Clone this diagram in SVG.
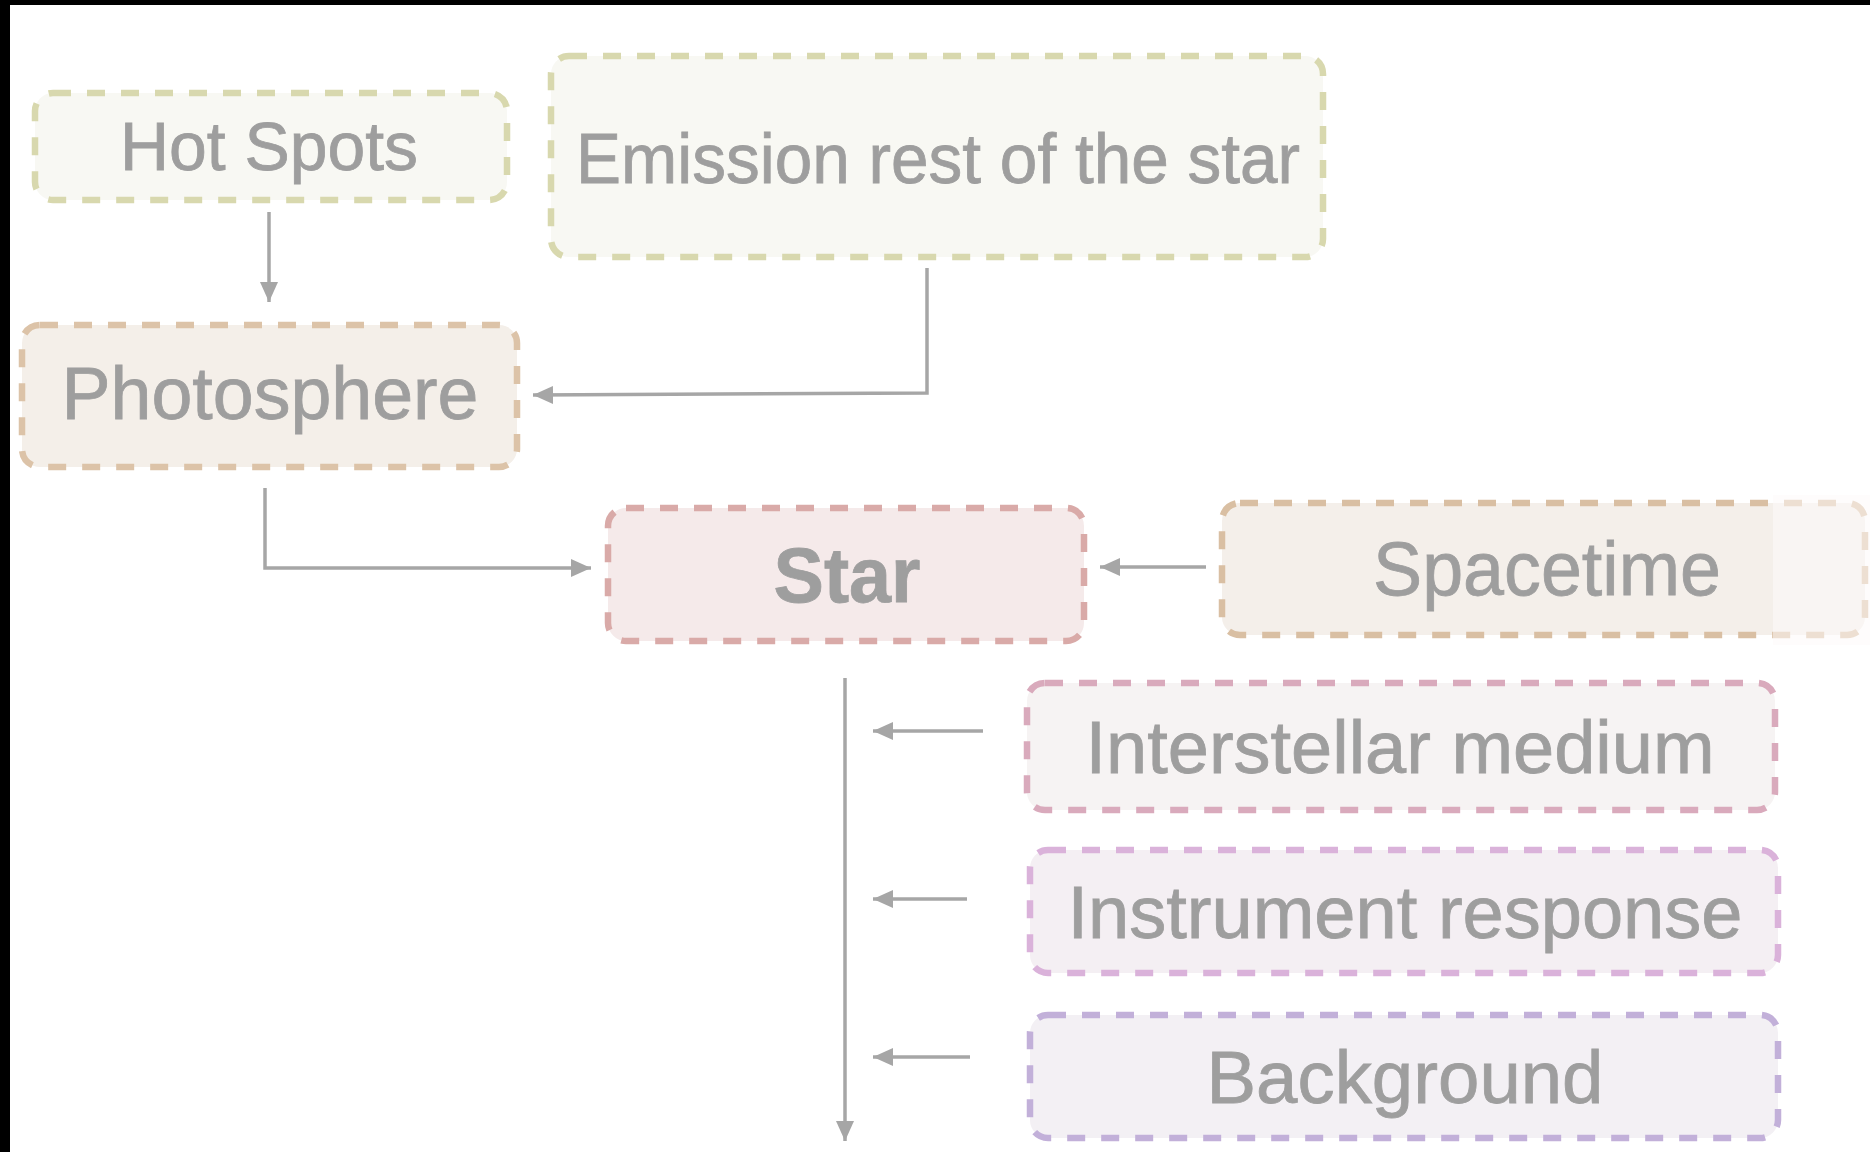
<svg xmlns="http://www.w3.org/2000/svg" width="1870" height="1152" viewBox="0 0 1870 1152">
<style>
  .box { stroke-width: 6.5; stroke-dasharray: 18 16; }
  .lbl { font-family: "Liberation Sans", Arial, Helvetica, sans-serif; fill: #9e9e9e; stroke: #9e9e9e; stroke-width: 0.8; text-anchor: middle; }
  .conn { fill: none; stroke: #a6a6a6; stroke-width: 3.5; }
</style>
<defs>
  <marker id="ah" markerUnits="userSpaceOnUse" markerWidth="22" markerHeight="20" refX="20" refY="9" orient="auto">
    <path d="M0,0 L20,9 L0,18 Z" fill="#a6a6a6"/>
  </marker>
</defs>
<rect x="0" y="0" width="1870" height="1152" fill="#ffffff"/>

<g id="hot-spots">
  <rect class="box" x="35" y="93" width="472" height="107" rx="18" fill="#f8f8f3" stroke="#d8d8ae"/>
  <text class="lbl" x="269" y="170" font-size="68" textLength="298" lengthAdjust="spacingAndGlyphs">Hot Spots</text>
</g>
<g id="emission">
  <rect class="box" x="551" y="56" width="772" height="201" rx="18" fill="#f8f8f3" stroke="#d8d8ae"/>
  <text class="lbl" x="938" y="183" font-size="70" textLength="724" lengthAdjust="spacingAndGlyphs">Emission rest of the star</text>
</g>
<g id="photosphere">
  <rect class="box" x="22" y="325" width="495" height="142" rx="18" fill="#f4efe9" stroke="#dcc3a8"/>
  <text class="lbl" x="270" y="419" font-size="74" textLength="417" lengthAdjust="spacingAndGlyphs">Photosphere</text>
</g>
<g id="star">
  <rect class="box" x="608" y="508" width="476" height="133" rx="18" fill="#f5eaea" stroke="#d9aaa8"/>
  <text class="lbl" x="847" y="602" font-size="77" font-weight="bold" textLength="147" lengthAdjust="spacingAndGlyphs">Star</text>
</g>
<g id="spacetime">
  <rect class="box" x="1222" y="503" width="643" height="132" rx="18" fill="#f4efea" stroke="#d9bfa3"/>
  <text class="lbl" x="1547" y="595" font-size="76" textLength="348" lengthAdjust="spacingAndGlyphs">Spacetime</text>
  <rect x="1773" y="495" width="97" height="150" fill="#fdf9f9" opacity="0.55"/>
</g>
<g id="interstellar-medium">
  <rect class="box" x="1027" y="683" width="748" height="127" rx="18" fill="#f6f3f3" stroke="#d9aabc"/>
  <text class="lbl" x="1400" y="773" font-size="74" textLength="629" lengthAdjust="spacingAndGlyphs">Interstellar medium</text>
</g>
<g id="instrument-response">
  <rect class="box" x="1030" y="850" width="748" height="123" rx="18" fill="#f4eff3" stroke="#dab2da"/>
  <text class="lbl" x="1405" y="938" font-size="74" textLength="675" lengthAdjust="spacingAndGlyphs">Instrument response</text>
</g>
<g id="background">
  <rect class="box" x="1030" y="1015" width="748" height="123" rx="18" fill="#f3f0f4" stroke="#c2b0d9"/>
  <text class="lbl" x="1405" y="1103" font-size="74" textLength="397" lengthAdjust="spacingAndGlyphs">Background</text>
</g>

<g id="connectors">
  <path class="conn" d="M269,212 L269,302" marker-end="url(#ah)"/>
  <path class="conn" d="M927,268 L927,393 L533,395" marker-end="url(#ah)"/>
  <path class="conn" d="M265,488 L265,568 L591,568" marker-end="url(#ah)"/>
  <path class="conn" d="M1206,567 L1100,567" marker-end="url(#ah)"/>
  <path class="conn" d="M845,678 L845,1141" marker-end="url(#ah)"/>
  <path class="conn" d="M983,731 L873,731" marker-end="url(#ah)"/>
  <path class="conn" d="M967,899 L873,899" marker-end="url(#ah)"/>
  <path class="conn" d="M970,1057 L873,1057" marker-end="url(#ah)"/>
</g>

<rect x="0" y="0" width="10" height="1152" fill="#000000"/>
<rect x="0" y="0" width="1870" height="5" fill="#000000"/>
</svg>
